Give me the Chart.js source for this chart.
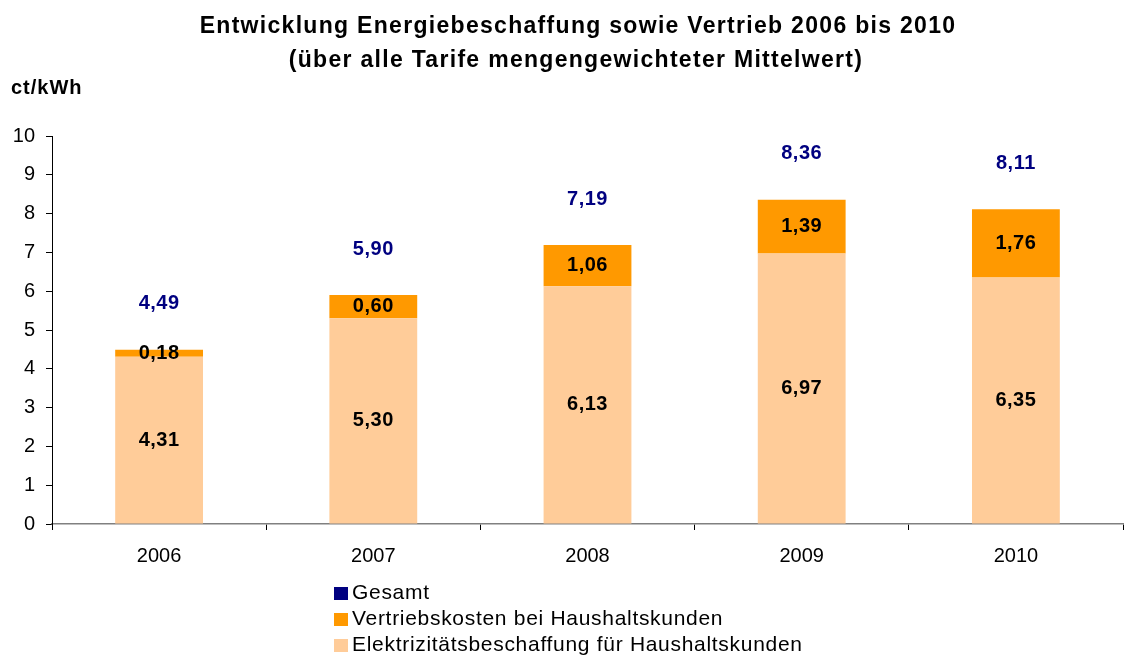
<!DOCTYPE html>
<html>
<head>
<meta charset="utf-8">
<title>Entwicklung Energiebeschaffung sowie Vertrieb 2006 bis 2010</title>
<script src="https://cdn.jsdelivr.net/npm/chart.js"></script>
<style>
  body { margin: 0; background: #fff; font-family: "Liberation Sans", Arial, sans-serif; }
  #wrap { position: relative; width: 1124px; height: 655px; }
  #legend { position: absolute; left: 334px; top: 579px; font-size: 21px; letter-spacing: 0.7px; color: #000; line-height: 26px; }
  #legend div { white-space: nowrap; }
  #legend span { display: inline-block; width: 14px; height: 13px; margin-right: 4px; vertical-align: -1px; }
</style>
</head>
<body>
<div id="wrap">
  <canvas id="myChart" width="1124" height="655"></canvas>
  <div id="legend"></div>
</div>
<script>
const years = ['2006', '2007', '2008', '2009', '2010'];
const beschaffung = [4.31, 5.30, 6.13, 6.97, 6.35];
const vertrieb = [0.18, 0.60, 1.06, 1.39, 1.76];
const gesamt = [4.49, 5.90, 7.19, 8.36, 8.11];
const yTicks = [0, 1, 2, 3, 4, 5, 6, 7, 8, 9, 10];

const fmt = v => v.toFixed(2).replace('.', ',');
const FONT = '"Liberation Sans", Arial, sans-serif';

// legend (vertical, like the original)
const legendItems = [
    ['Gesamt', '#000080'],
    ['Vertriebskosten bei Haushaltskunden', '#FF9900'],
    ['Elektrizitätsbeschaffung für Haushaltskunden', '#FFCC99']
];
document.getElementById('legend').innerHTML = legendItems
    .map(([t, c]) => `<div><span style="background:${c}"></span>${t}</div>`).join('');

const textPlugin = {
    id: 'texts',
    afterDatasetsDraw(chart) {
        const ctx = chart.ctx;
        const y = chart.scales.y;
        ctx.save();
        ctx.textAlign = 'center';
        ctx.textBaseline = 'middle';
        ctx.letterSpacing = '0.5px';
        // segment values
        ctx.fillStyle = '#000';
        ctx.font = 'bold 20px ' + FONT;
        [0, 1].forEach(di => {
            chart.getDatasetMeta(di).data.forEach((bar, i) => {
                const v = chart.data.datasets[di].data[i];
                ctx.fillText(fmt(v), bar.x, (bar.y + bar.base) / 2);
            });
        });
        // totals
        ctx.fillStyle = '#000080';
        chart.getDatasetMeta(1).data.forEach((bar, i) => {
            ctx.fillText(fmt(gesamt[i]), bar.x, y.getPixelForValue(gesamt[i]) - 46);
        });
        // title and unit
        ctx.fillStyle = '#000';
        ctx.letterSpacing = '1.3px';
        ctx.font = 'bold 23px ' + FONT;
        ctx.fillText('Entwicklung Energiebeschaffung sowie Vertrieb 2006 bis 2010', 578, 27);
        ctx.fillText('(über alle Tarife mengengewichteter Mittelwert)', 576, 61);
        ctx.textAlign = 'left';
        ctx.letterSpacing = '1px';
        ctx.font = 'bold 20px ' + FONT;
        ctx.fillText('ct/kWh', 11, 88);
        ctx.restore();
    }
};

const config = {
    type: 'bar',
    data: {
        labels: years,
        datasets: [{
            label: 'Elektrizitätsbeschaffung für Haushaltskunden',
            data: beschaffung,
            backgroundColor: '#FFCC99'
        }, {
            label: 'Vertriebskosten bei Haushaltskunden',
            data: vertrieb,
            backgroundColor: '#FF9900'
        }]
    },
    options: {
        responsive: false,
        animation: false,
        layout: { padding: { top: 136, right: 1, left: 0, bottom: 0 } },
        datasets: { bar: { barPercentage: 0.41, categoryPercentage: 1 } },
        plugins: { legend: { display: false }, tooltip: { enabled: false } },
        scales: {
            x: {
                stacked: true,
                afterFit: s => { s.height = 131; },
                grid: { drawOnChartArea: false, drawTicks: true, tickLength: 6, color: '#000', offset: true },
                border: { color: '#808080', width: 1.5 },
                ticks: { color: '#000', padding: 14, font: { size: 20, family: FONT } }
            },
            y: {
                stacked: true,
                min: 0,
                max: 10,
                afterFit: s => { s.width = 52; },
                afterBuildTicks: s => { s.ticks = yTicks.map(v => ({ value: v })); },
                grid: { drawOnChartArea: false, drawTicks: true, tickLength: 6, color: '#000' },
                border: { color: '#000', width: 1 },
                ticks: { color: '#000', padding: 11, font: { size: 20, family: FONT } }
            }
        }
    },
    plugins: [textPlugin]
};

new Chart(document.getElementById('myChart'), config);
</script>
</body>
</html>
